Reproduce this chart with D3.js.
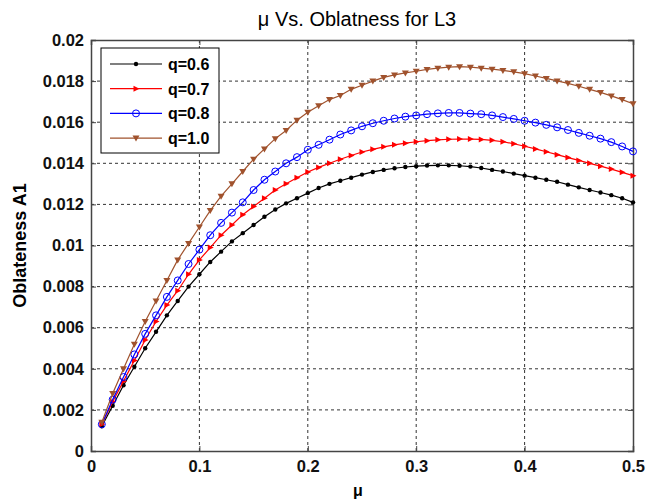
<!DOCTYPE html>
<html>
<head>
<meta charset="utf-8">
<script src="https://cdn.jsdelivr.net/npm/d3@7"></script>
<style>
  body { margin: 0; background: #fff; }
  svg { font-family: "Liberation Sans", Arial, sans-serif; }
</style>
</head>
<body>
<div id="chart"></div>
<script>
/* DATA */
const mu = d3.range(1, 51).map(i => i / 100); // 0.01 .. 0.50
const xTicks = [0, 0.1, 0.2, 0.3, 0.4, 0.5];
const yTicks = [0, 0.002, 0.004, 0.006, 0.008, 0.01, 0.012, 0.014, 0.016, 0.018, 0.02];

const q06 = [0.0012, 0.0022, 0.0032, 0.0041, 0.0050, 0.0058, 0.0066, 0.0073, 0.0080, 0.0086,
  0.0092, 0.0097, 0.0102, 0.0106, 0.0110, 0.01140, 0.01175, 0.01205, 0.0123, 0.01255,
  0.0128, 0.0130, 0.01315, 0.0133, 0.01345, 0.01358, 0.01368, 0.01376, 0.01382, 0.01386,
  0.01389, 0.0139, 0.0139, 0.01388, 0.01384, 0.01377, 0.01368, 0.0136, 0.0135, 0.0134,
  0.0133, 0.0132, 0.0131, 0.01296, 0.01283, 0.0127, 0.01258, 0.01245, 0.0123, 0.0121];
const q07 = [0.0013, 0.0024, 0.0034, 0.0044, 0.0054, 0.0063, 0.0071, 0.0078, 0.0086, 0.0093,
  0.0099, 0.0105, 0.0110, 0.0115, 0.0119, 0.0123, 0.0127, 0.0130, 0.0133, 0.01358,
  0.0138, 0.0140, 0.0142, 0.01438, 0.01455, 0.01468, 0.0148, 0.0149, 0.01498, 0.01505,
  0.0151, 0.01514, 0.01517, 0.01518, 0.01518, 0.01516, 0.01512, 0.01505, 0.01495, 0.01483,
  0.0147, 0.01456, 0.01442, 0.01428, 0.01414, 0.0140, 0.01386, 0.01372, 0.01356, 0.0134];
const q08 = [0.0013, 0.0025, 0.0036, 0.0047, 0.0057, 0.0066, 0.0075, 0.0083, 0.0091, 0.0098,
  0.0105, 0.0111, 0.0116, 0.0121, 0.0127, 0.0132, 0.0136, 0.0140, 0.0143, 0.01466,
  0.0149, 0.01515, 0.0154, 0.0156, 0.0158, 0.01595, 0.01607, 0.01618, 0.01627, 0.01633,
  0.01639, 0.01643, 0.01645, 0.01645, 0.01642, 0.01639, 0.01633, 0.01625, 0.01616, 0.01607,
  0.01598, 0.01587, 0.01575, 0.01562, 0.01548, 0.01534, 0.0152, 0.01503, 0.01482, 0.01458];
const q10 = [0.0014, 0.0028, 0.0040, 0.0052, 0.0063, 0.0073, 0.0083, 0.0093, 0.0101, 0.0109,
  0.0117, 0.0124, 0.0130, 0.0136, 0.0142, 0.0147, 0.0152, 0.0156, 0.0161, 0.01648,
  0.0168, 0.0171, 0.0173, 0.0176, 0.0178, 0.0180, 0.01818, 0.0183, 0.0184, 0.01848,
  0.01857, 0.01863, 0.01868, 0.0187, 0.01868, 0.01863, 0.01858, 0.01852, 0.01845, 0.01836,
  0.01825, 0.01813, 0.01801, 0.01789, 0.01775, 0.0176, 0.01745, 0.01728, 0.0171, 0.0169];

const seriesNames = ["q=0.6", "q=0.7", "q=0.8", "q=1.0"];
const seriesValues = [q06, q07, q08, q10];

/* LAYOUT */
const width = 656, height = 503;
const margin = {left: 91, right: 23, top: 40, bottom: 52};
const colors = ["#000000", "#ff0000", "#0000ff", "#a0522d"];
const markers = ["dot", "tri-right", "circle", "tri-down"];

const svg = d3.select("#chart").append("svg")
  .attr("width", width)
  .attr("height", height);

const x = d3.scaleLinear().domain([0, 0.5]).range([margin.left, width - margin.right]);
const y = d3.scaleLinear().domain([0, 0.02]).range([height - margin.bottom, margin.top]);

//grid lines (dashed)
svg.append("g").selectAll("line.gx")
  .data(xTicks.slice(1, -1))
  .join("line")
  .attr("x1", d => x(d)).attr("x2", d => x(d))
  .attr("y1", y(0)).attr("y2", y(0.02))
  .attr("stroke", "#333").attr("stroke-width", 1).attr("stroke-dasharray", "3,3");
svg.append("g").selectAll("line.gy")
  .data(yTicks.slice(1, -1))
  .join("line")
  .attr("x1", x(0)).attr("x2", x(0.5))
  .attr("y1", d => y(d)).attr("y2", d => y(d))
  .attr("stroke", "#333").attr("stroke-width", 1).attr("stroke-dasharray", "3,3");

//axes with inward ticks
const fmtY = d => d === 0 ? "0" : d3.format("")(+d.toFixed(3));
svg.append("g")
  .attr("transform", `translate(0,${y(0)})`)
  .call(d3.axisBottom(x).tickValues(xTicks).tickSize(-5).tickPadding(9).tickFormat(d => d === 0 ? "0" : d));
svg.append("g")
  .attr("transform", `translate(${x(0)},0)`)
  .call(d3.axisLeft(y).tickValues(yTicks).tickSize(-5).tickPadding(7).tickFormat(fmtY));
svg.append("g")
  .attr("transform", `translate(0,${y(0.02)})`)
  .call(d3.axisTop(x).tickValues(xTicks).tickSize(-5).tickFormat(""));
svg.append("g")
  .attr("transform", `translate(${x(0.5)},0)`)
  .call(d3.axisRight(y).tickValues(yTicks).tickSize(-5).tickFormat(""));

svg.selectAll(".domain").attr("stroke", "#444").attr("stroke-width", 1.5);
svg.selectAll(".tick line").attr("stroke", "#444");
svg.selectAll(".tick text")
  .attr("font-size", 16.5).attr("font-weight", "bold").attr("fill", "#111")
  .attr("font-family", "'Liberation Sans', Arial, sans-serif");

//series
const line = d3.line().x((d, i) => x(mu[i])).y(d => y(d));

function drawMarker(g, type, color) {
  if (type === "dot") {
    g.append("circle").attr("r", 2.2).attr("fill", color);
  } else if (type === "circle") {
    g.append("circle").attr("r", 3.5).attr("fill", "none").attr("stroke", color).attr("stroke-width", 1);
  } else if (type === "tri-right") {
    g.append("path").attr("d", "M-2.5,-3L3.5,0L-2.5,3Z").attr("fill", color);
  } else if (type === "tri-down") {
    g.append("path").attr("d", "M-3.5,-2.5L3.5,-2.5L0,3.5Z").attr("fill", color);
  }
}

seriesValues.forEach((vals, k) => {
  const g = svg.append("g");
  g.append("path")
    .datum(vals)
    .attr("d", line)
    .attr("fill", "none")
    .attr("stroke", colors[k])
    .attr("stroke-width", 1.2);
  vals.forEach((v, i) => {
    const m = g.append("g").attr("transform", `translate(${x(mu[i])},${y(v)})`);
    drawMarker(m, markers[k], colors[k]);
  });
});

//legend
const legend = svg.append("g");
legend.append("rect")
  .attr("x", 101).attr("y", 48).attr("width", 118).attr("height", 105)
  .attr("fill", "#fff").attr("stroke", "#000").attr("stroke-width", 1);
seriesNames.forEach((name, k) => {
  const ly = 64 + k * 24.7;
  legend.append("line")
    .attr("x1", 110).attr("x2", 162).attr("y1", ly).attr("y2", ly)
    .attr("stroke", colors[k]).attr("stroke-width", 1.2);
  const m = legend.append("g").attr("transform", `translate(136,${ly})`);
  drawMarker(m, markers[k], colors[k]);
  legend.append("text")
    .attr("x", 168).attr("y", ly + 6)
    .attr("font-size", 16).attr("font-weight", "bold")
    .text(name);
});

//title and labels
svg.append("text")
  .attr("x", 357).attr("y", 26)
  .attr("text-anchor", "middle")
  .attr("font-size", 20)
  .text("μ Vs. Oblatness for L3");
svg.append("text")
  .attr("x", 358).attr("y", 496)
  .attr("text-anchor", "middle")
  .attr("font-size", 16).attr("font-weight", "bold")
  .text("μ");
svg.append("text")
  .attr("transform", `translate(26,${(y(0) + y(0.02)) / 2}) rotate(-90)`)
  .attr("text-anchor", "middle")
  .attr("font-size", 18).attr("font-weight", "bold")
  .text("Oblateness A1");
</script>
</body>
</html>
